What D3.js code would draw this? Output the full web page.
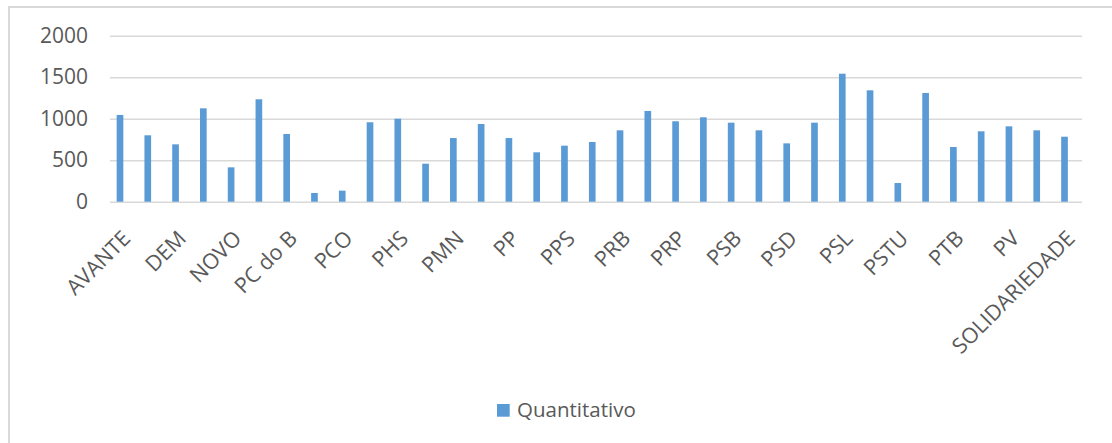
<!DOCTYPE html>
<html>
<head>
<meta charset="utf-8">
<script src="https://cdn.jsdelivr.net/npm/d3@7"></script>
<style>
  html, body { margin: 0; padding: 0; background: #fff; }
  svg { display: block; }
  text { font-family: "Open Sans", sans-serif; fill: #595959; }
</style>
</head>
<body>
<svg id="chart" width="1112" height="443"></svg>
<script>
const categories = ["AVANTE","DC","DEM","MDB","NOVO","PATRIOTA","PC do B","PCB","PCO","PDT",
  "PHS","PMB","PMN","PODE","PP","PPL","PPS","PR","PRB","PROS",
  "PRP","PRTB","PSB","PSC","PSD","PSDB","PSL","PSOL","PSTU","PT",
  "PTB","PTC","PV","REDE","SOLIDARIEDADE"];
const quantitativo = [1045, 800, 691, 1125, 414, 1234, 816, 105, 133, 957,
  1000, 458, 767, 936, 767, 595, 675, 719, 860, 1093,
  969, 1017, 952, 860, 703, 952, 1542, 1342, 225, 1310,
  659, 848, 908, 860, 783];
const shownLabels = ["AVANTE","DEM","NOVO","PC do B","PCO","PHS","PMN","PP","PPS","PRB",
  "PRP","PSB","PSD","PSL","PSTU","PTB","PV","SOLIDARIEDADE"];
const yTicks = [0, 500, 1000, 1500, 2000];
const seriesName = "Quantitativo";

const svg = d3.select("#chart");

// border
svg.append("path")
  .attr("d", "M9,443 L9,7 L1112,7")
  .attr("fill", "none").attr("stroke", "#d9d9d9").attr("stroke-width", 2);

const x = d3.scaleBand().domain(categories).range([106.1, 1078.4])
  .paddingInner(0.76).paddingOuter(0.38);
const y = d3.scaleLinear().domain([0, 2000]).range([201.7, 35.7]);

// gridlines + y labels
const yAxis = svg.append("g").attr("transform", "translate(110,0)")
  .call(d3.axisLeft(y).tickValues(yTicks).tickSize(-972).tickPadding(22).tickFormat(d3.format("d")));
yAxis.select(".domain").remove();
yAxis.selectAll(".tick line").attr("stroke", "#d9d9d9").attr("stroke-width", 1.5);
yAxis.selectAll(".tick text").attr("font-size", 21).attr("fill", "#595959")
  .attr("font-family", "Open Sans, sans-serif");

// bars
svg.append("g").selectAll("rect").data(categories).join("rect")
  .attr("x", d => x(d))
  .attr("width", x.bandwidth())
  .attr("y", (d, i) => y(quantitativo[i]))
  .attr("height", (d, i) => y(0) - y(quantitativo[i]))
  .attr("fill", "#5b9bd5");

// x labels (every other category shown)
const xAxis = svg.append("g").attr("transform", "translate(1,229)")
  .call(d3.axisBottom(x).tickValues(shownLabels).tickSize(0).tickPadding(0));
xAxis.select(".domain").remove();
xAxis.selectAll(".tick text")
  .attr("font-size", 21.5).attr("fill", "#595959")
  .attr("font-family", "Open Sans, sans-serif")
  .attr("text-anchor", "end")
  .attr("y", 0).attr("dy", "0.71em")
  .attr("transform", "rotate(-45)");

// legend
const lg = svg.append("g");
lg.append("rect").attr("x", 497).attr("y", 404).attr("width", 12.7).attr("height", 12.7).attr("fill", "#5b9bd5");
lg.append("text").attr("x", 517).attr("y", 417).attr("font-size", 20.5).text(seriesName);
</script>
</body>
</html>
